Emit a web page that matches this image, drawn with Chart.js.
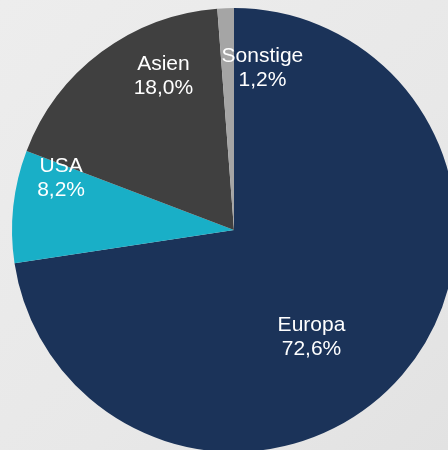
<!DOCTYPE html>
<html>
<head>
<meta charset="utf-8">
<script src="https://cdn.jsdelivr.net/npm/chart.js@4/dist/chart.umd.min.js"></script>
<style>
  html, body { margin: 0; padding: 0; overflow: hidden; }
  body {
    width: 448px; height: 450px;
    background: linear-gradient(135deg, #ededed 0%, #e8e8e8 60%, #e2e2e2 100%);
    position: relative;
  }
  #wrap { position: absolute; left: 0; top: 0; width: 468px; height: 460px; }
</style>
</head>
<body>
<div id="wrap"><canvas id="regionChart" width="468" height="460"></canvas></div>
<script>
const regions = ["Europa", "USA", "Asien", "Sonstige"];
const shares = [72.6, 8.2, 18.0, 1.2];
const colors = ["#1b3359", "#19afc7", "#404040", "#a5a5a5"];

// first-line baseline of each label, as [x, y] offset from the pie centre in radius units
const labelOffsets = [[0.349, 0.455], [-0.779, -0.261], [-0.318, -0.721], [0.128, -0.755]];

const fmt = v => v.toFixed(1).replace(".", ",") + "%";

const sliceLabels = {
  id: "sliceLabels",
  afterDatasetsDraw(chart) {
    const ctx = chart.ctx;
    const arcs = chart.getDatasetMeta(0).data;
    ctx.save();
    ctx.fillStyle = "#ffffff";
    ctx.font = "21px 'Liberation Sans', Arial, sans-serif";
    ctx.textAlign = "center";
    ctx.textBaseline = "alphabetic";
    arcs.forEach((arc, i) => {
      const r = arc.outerRadius;
      const x = arc.x + labelOffsets[i][0] * r;
      const y = arc.y + labelOffsets[i][1] * r;
      ctx.fillText(regions[i], x, y);
      ctx.fillText(fmt(shares[i]), x, y + 24);
    });
    ctx.restore();
  }
};

new Chart(document.getElementById("regionChart").getContext("2d"), {
  type: "pie",
  data: {
    labels: regions,
    datasets: [{
      data: shares,
      backgroundColor: colors,
      borderWidth: 0
    }]
  },
  options: {
    responsive: false,
    animation: false,
    layout: { padding: 8 },
    plugins: {
      legend: { display: false },
      tooltip: { enabled: false }
    }
  },
  plugins: [sliceLabels]
});
</script>
</body>
</html>
